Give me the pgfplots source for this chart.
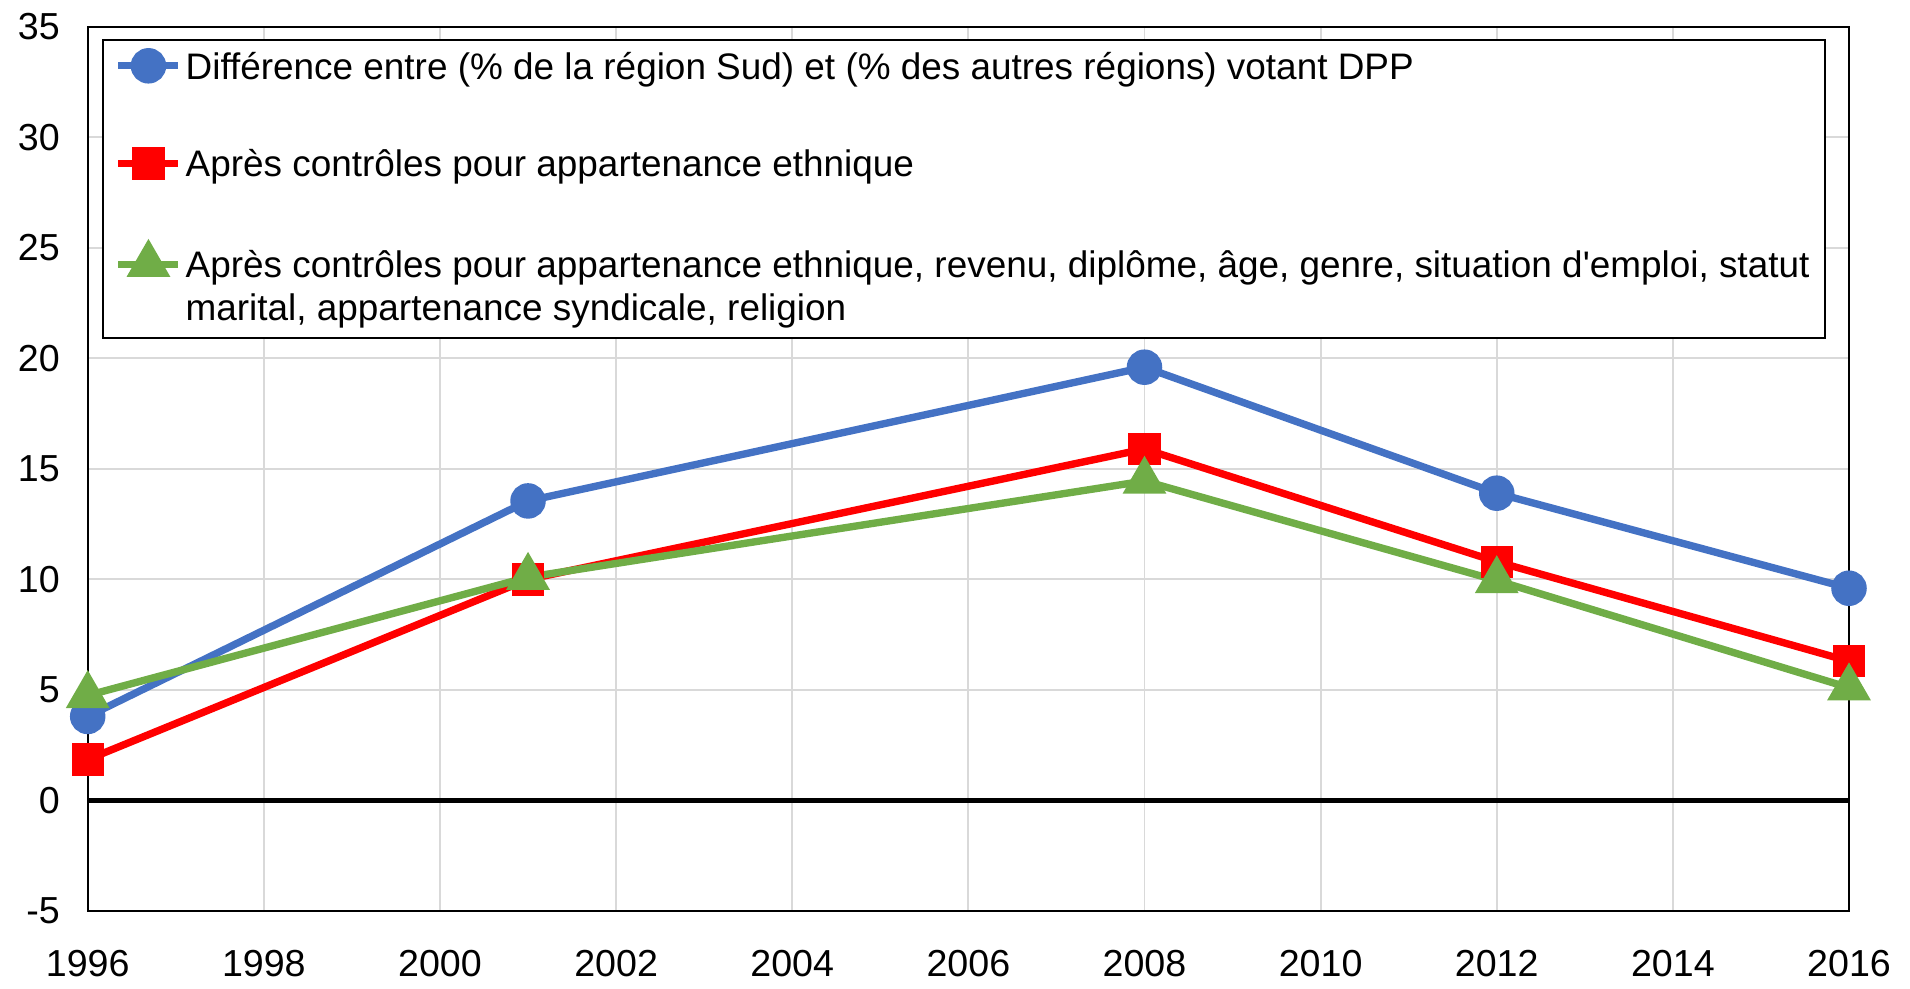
\documentclass[border=0pt]{standalone}
\usepackage{fontspec}
\setmainfont{Liberation Sans}
\usepackage{pgfplots}
\pgfplotsset{compat=1.18}
\definecolor{cblue}{HTML}{4472C4}
\definecolor{cred}{HTML}{FF0000}
\definecolor{cgreen}{HTML}{70AD47}
\definecolor{cgrid}{HTML}{D9D9D9}
\pgfplotsset{shiftedlegend/.style={legend image code/.code={\draw[mark repeat=2,mark phase=2,##1,yshift=12.2pt] plot coordinates {(0cm,0cm) (0.3cm,0cm) (0.6cm,0cm)};}}}
\begin{document}
\fontsize{10.5}{12.2}\selectfont
\begin{tikzpicture}
\begin{axis}[
  at={(0,0)}, anchor=south west,
  scale only axis, width=17.61cm, height=8.84cm,
  xmin=1996, xmax=2016, ymin=-5, ymax=35,
  xtick={1996,1998,...,2016}, ytick={-5,0,...,35},
  grid=major, grid style={cgrid, line width=0.55pt},
  axis line style={black, line width=0.6pt},
  major tick length=0pt,
  /pgf/number format/1000 sep={},
  /pgf/number format/assume math mode=true,
  tick label style={font=\fontsize{10.7}{12}\selectfont},
  xticklabel style={yshift=-0.26cm},
  yticklabel style={xshift=-0.15cm},
  legend style={at={(0.00795,0.9864)}, anchor=north west,
    draw=black, line width=0.6pt, fill=white,
    font=\fontsize{10.5}{12.2}\selectfont,
    nodes={inner xsep=1pt},
    cells={anchor=base west},
    row sep=0.51cm, inner xsep=0.12cm, inner ysep=0.05cm},
  legend image post style={yshift=0.36em},
]
\addplot[cblue, line width=2.1pt, mark=*, mark size=4pt, mark options={solid}]
  coordinates {(1996,3.8) (2001,13.55) (2008,19.6) (2012,13.9) (2016,9.6)};
\addlegendentry{Différence entre (\% de la région Sud) et (\% des autres régions) votant DPP}
\addplot[cred, line width=2.1pt, mark=square*, mark size=3.55pt, mark options={solid}]
  coordinates {(1996,1.85) (2001,10.0) (2008,15.9) (2012,10.8) (2016,6.3)};
\addlegendentry{Après contrôles pour appartenance ethnique}
\addplot[cgreen, line width=2.1pt, mark=triangle*, mark size=5.1pt, mark options={solid}, shiftedlegend]
  coordinates {(1996,4.75) (2001,10.1) (2008,14.45) (2012,9.95) (2016,5.1)};
\addlegendentry{\begin{tabular}[b]{@{}l@{}}Après contrôles pour appartenance ethnique, revenu, diplôme, âge, genre, situation d\textquotesingle emploi, statut\\marital, appartenance syndicale, religion\end{tabular}}
\addplot[black, line width=1.5pt, forget plot] coordinates {(1996,0) (2016,0)};
\end{axis}
\path[use as bounding box] (-0.877cm,-0.76cm) rectangle (18.22cm,9.108cm);
\end{tikzpicture}
\end{document}
